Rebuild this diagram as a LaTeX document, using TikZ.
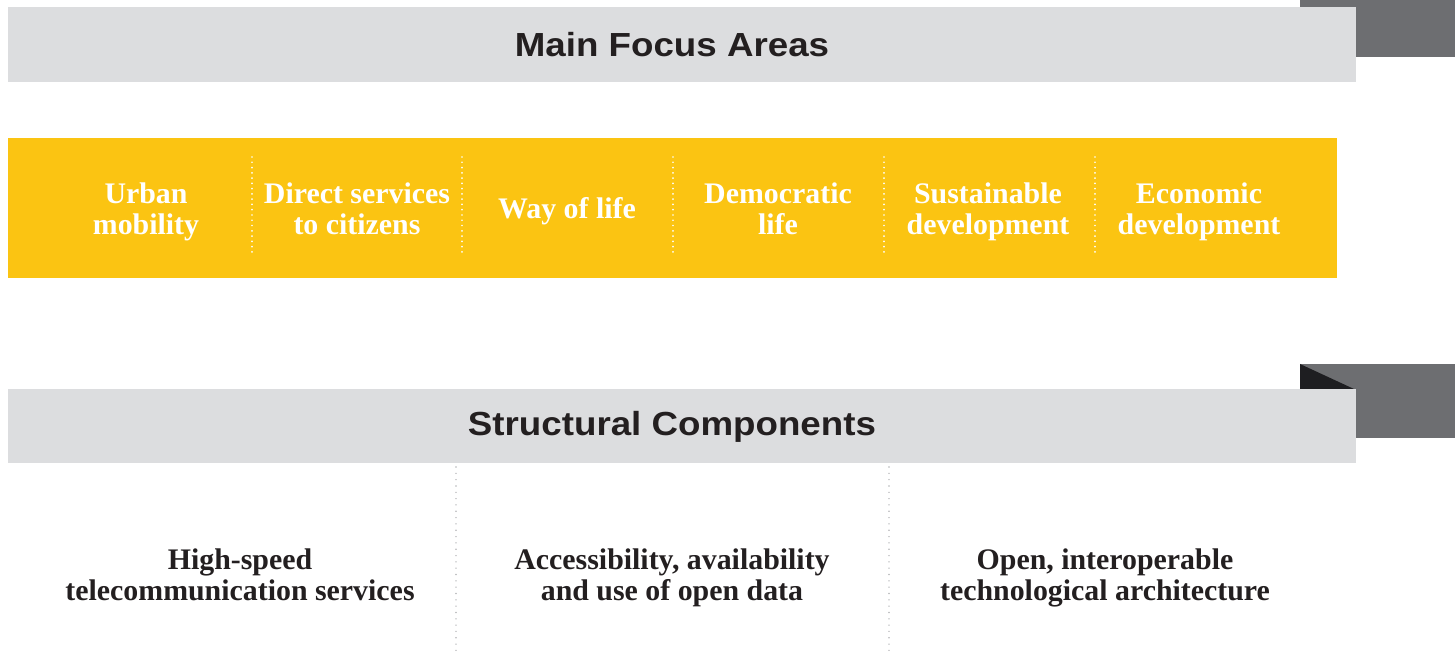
\documentclass[tikz,border=0pt]{standalone}
\usepackage{fontspec}
\setmainfont{Liberation Serif}
\setsansfont{Liberation Sans}
\newfontfamily\headfont[FakeStretch=1.1]{Liberation Sans}

\definecolor{barGray}{HTML}{DCDDDF}
\definecolor{tabGray}{HTML}{6D6E71}
\definecolor{tabDark}{HTML}{1E1E21}
\definecolor{focusYellow}{HTML}{FBC412}
\definecolor{textDark}{HTML}{231F20}
\definecolor{dotGray}{HTML}{B5B6B8}

\begin{document}
\begin{tikzpicture}[x=0.02cm,y=-0.02cm,
  header/.style={font=\headfont\bfseries\fontsize{19}{22}\selectfont,text=textDark},
  area/.style={font=\bfseries\fontsize{17}{17.6}\selectfont,text=white,align=center},
  component/.style={font=\bfseries\fontsize{17}{17.6}\selectfont,text=textDark,align=center},
  whitedots/.style={white,line width=1.1pt,line cap=round,dash pattern=on 0pt off 3pt},
  graydots/.style={dotGray,line width=0.9pt,line cap=round,dash pattern=on 0pt off 3.6pt}]

\useasboundingbox (0,0) rectangle (1455,655);

% top tab and header bar
\fill[tabGray] (1300,0) rectangle (1455,57);
\fill[barGray] (8,7) rectangle (1356,82);
\node[header] (focus) at (672,45) {Main Focus Areas};

% yellow band
\fill[focusYellow] (8,138) rectangle (1337,278);
\foreach \x in {252,462,673,884,1095}
  \draw[whitedots] (\x,157) -- (\x,257);

% focus areas
\node[area] (mobility) at (146,212) {Urban\\mobility};
\node[area] (services) at (357,209) {Direct services\\to citizens};
\node[area] (life) at (567,211) {Way of life};
\node[area] (democratic) at (778,209) {Democratic\\life};
\node[area] (sustainable) at (988,212) {Sustainable\\development};
\node[area] (economic) at (1199,212) {Economic\\development};

% lower tab and header bar
\fill[tabGray] (1300,364) rectangle (1455,438);
\fill[tabDark] (1300,364) -- (1354,389) -- (1300,389) -- cycle;
\fill[barGray] (8,389) rectangle (1356,463);
\node[header] (structural) at (672,427) {Structural Components};

% structural components
\foreach \x in {456,889}
  \draw[graydots] (\x,467) -- (\x,655);
\node[component] (telecom) at (240,575) {High-speed\\telecommunication services};
\node[component] (opendata) at (672,578) {Accessibility, availability\\and use of open data};
\node[component] (architecture) at (1105,578) {Open, interoperable\\technological architecture};

\end{tikzpicture}
\end{document}
